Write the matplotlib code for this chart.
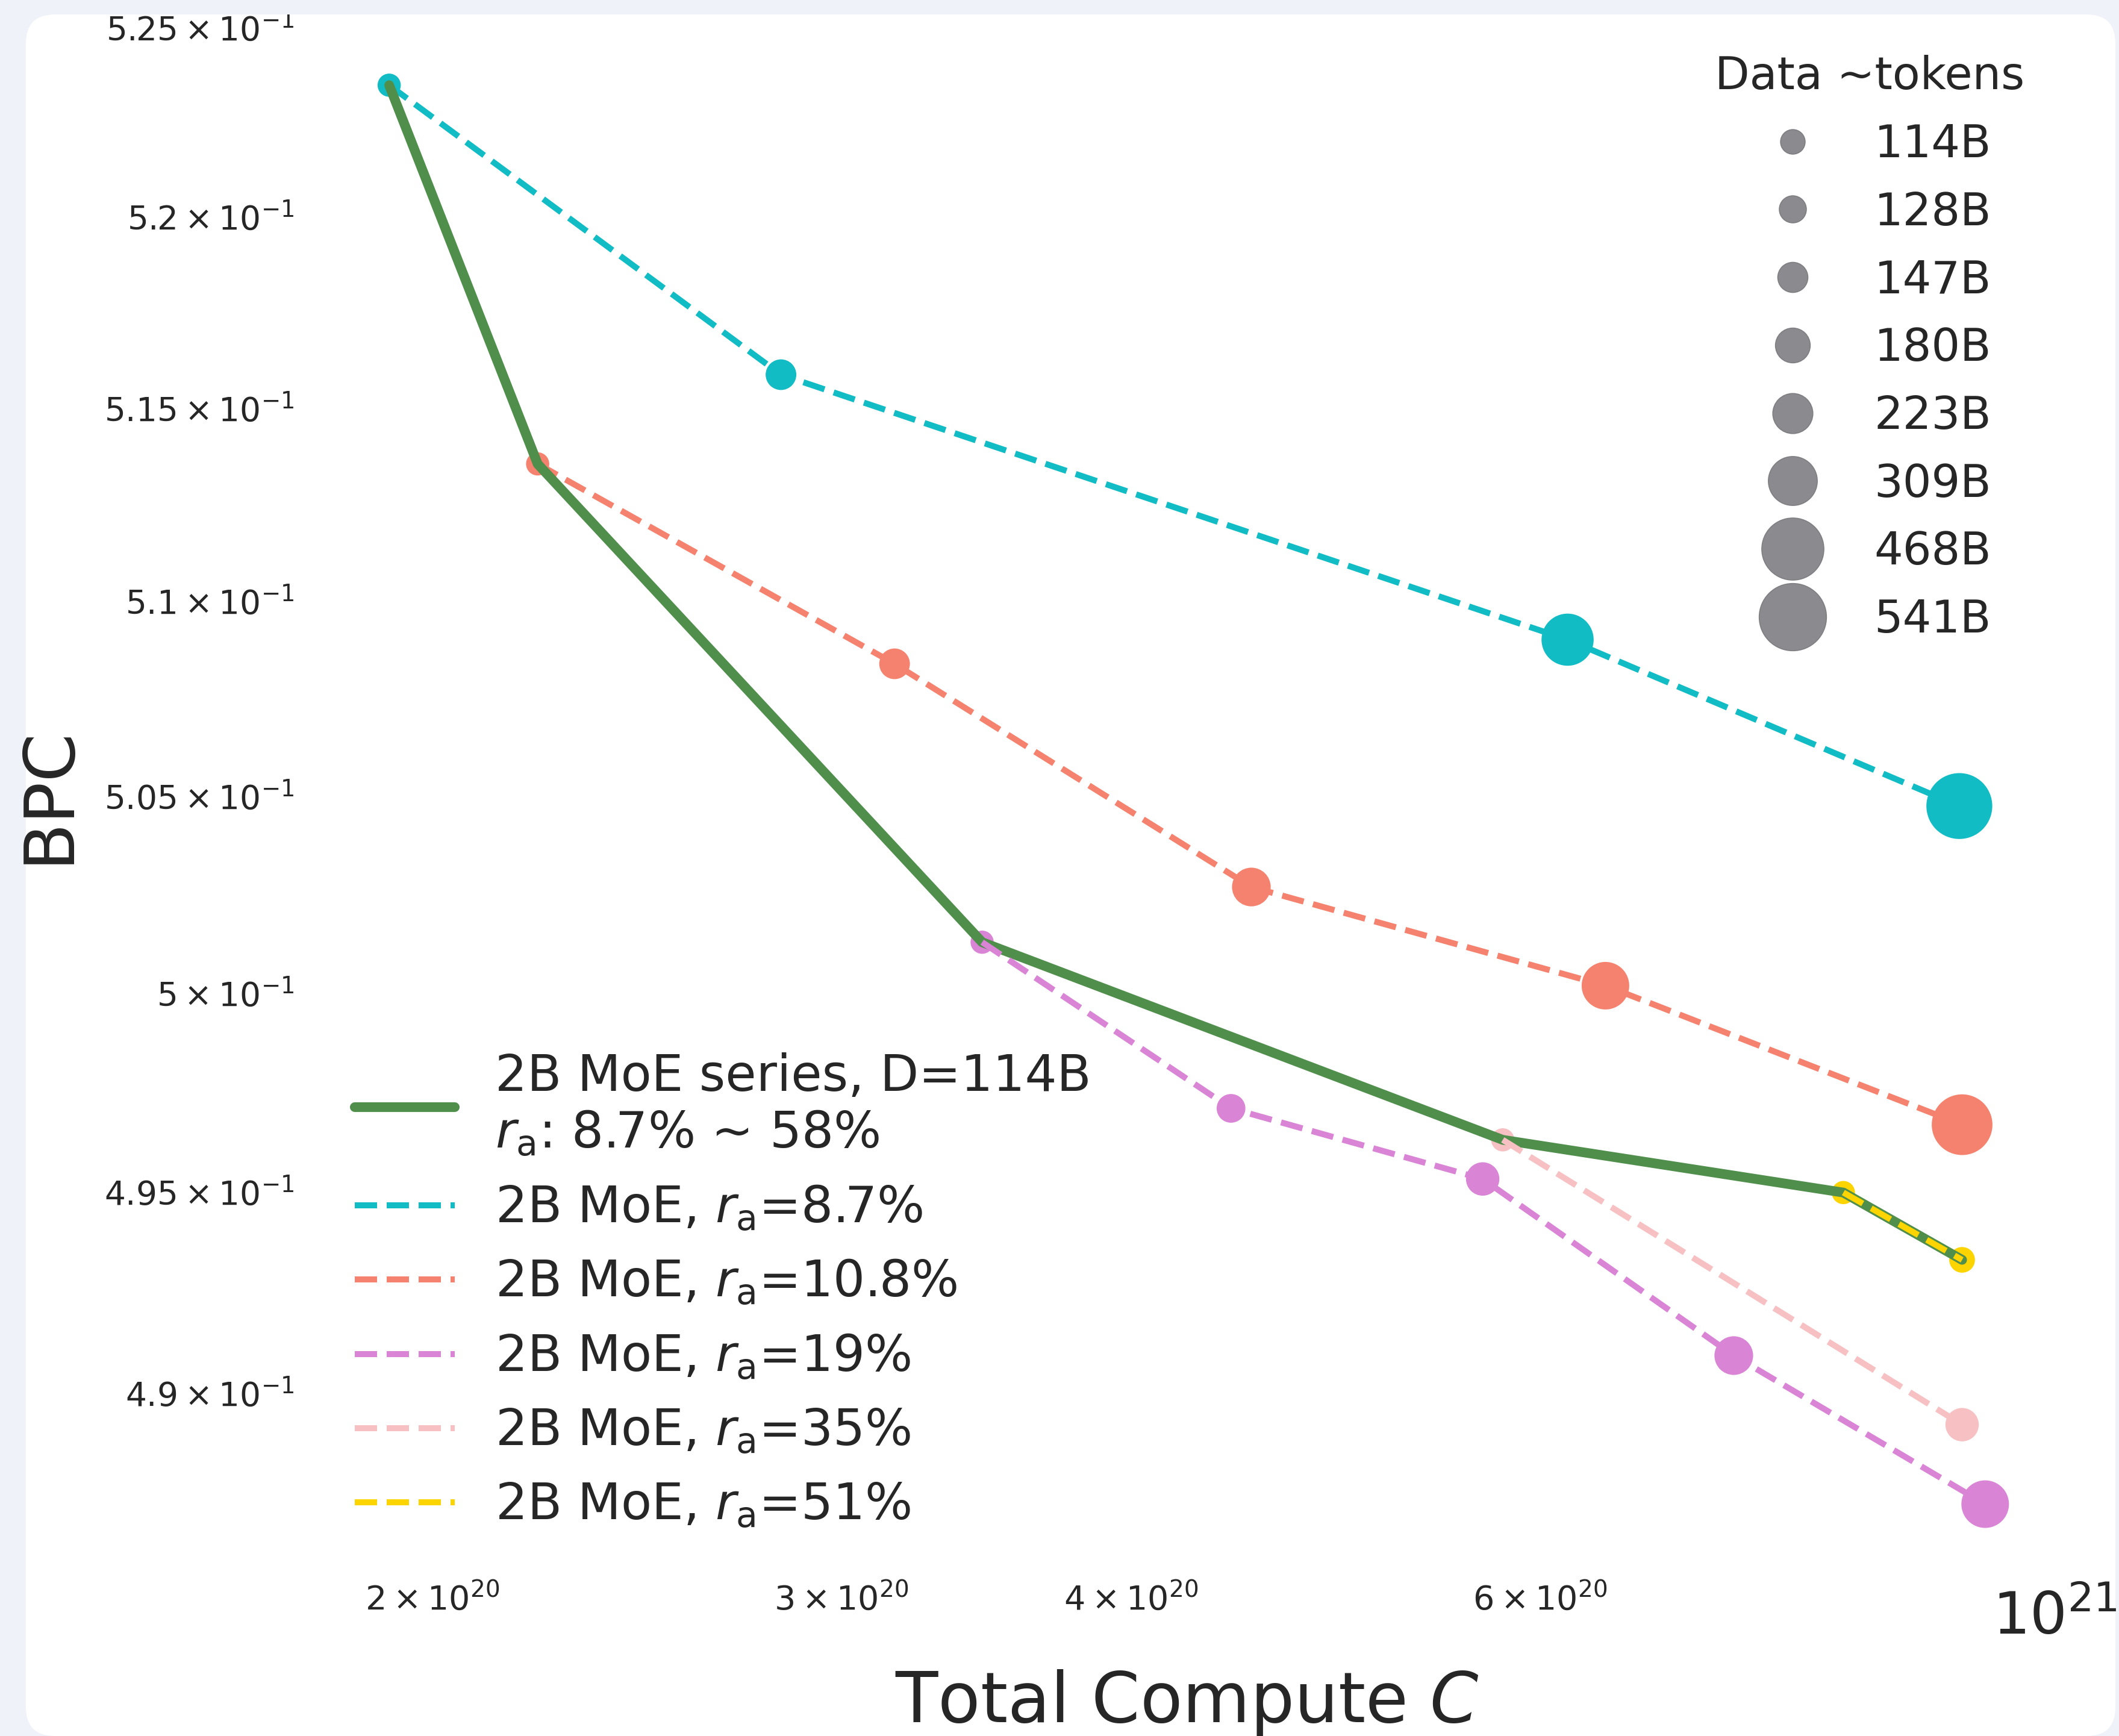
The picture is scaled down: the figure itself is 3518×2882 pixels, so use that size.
import numpy as np
import matplotlib.pyplot as plt
from matplotlib.lines import Line2D
from matplotlib.patches import FancyBboxPatch, Rectangle
from matplotlib.ticker import FixedLocator, FixedFormatter, NullLocator

# ---- data ----
compute_87 = [1.916e20, 2.826e20, 6.166e20, 9.094e20]
bpc_87 = [0.52346, 0.51586, 0.50900, 0.50474]
tokens_87 = [114, 160, 360, 541]

compute_108 = [2.220e20, 3.163e20, 4.506e20, 6.402e20, 9.119e20]
bpc_108 = [0.51354, 0.50838, 0.50268, 0.50018, 0.49668]
tokens_108 = [114, 160, 223, 309, 468]

compute_19 = [3.450e20, 4.416e20, 5.668e20, 7.271e20, 9.330e20]
bpc_19 = [0.50128, 0.49709, 0.49532, 0.49092, 0.48725]
tokens_19 = [114, 147, 180, 223, 309]

compute_35 = [5.782e20, 9.119e20]
bpc_35 = [0.49630, 0.48921]
tokens_35 = [114, 180]

compute_51 = [8.106e20, 9.119e20]
bpc_51 = [0.49498, 0.49330]
tokens_51 = [114, 128]

# 2B MoE series at D=114B (r_a from 8.7% to 58%)
compute_series = [1.916e20, 2.220e20, 3.450e20, 5.782e20, 8.106e20, 9.119e20]
bpc_series = [0.52346, 0.51354, 0.50128, 0.49630, 0.49498, 0.49330]

legend_tokens = [114, 128, 147, 180, 223, 309, 468, 541]

yticks = [0.49, 0.495, 0.50, 0.505, 0.51, 0.515, 0.52, 0.525]
ytick_labels = ['4.9', '4.95', '5', '5.05', '5.1', '5.15', '5.2', '5.25']
xticks_minor = [2e20, 3e20, 4e20, 6e20]
xtick_minor_labels = ['2', '3', '4', '6']
xticks_major = [1e21]

series = [
    (compute_87, bpc_87, tokens_87, '#12bcc4', r'2B MoE, $r_{\mathrm{a}}$=8.7%', 2.5),
    (compute_108, bpc_108, tokens_108, '#f5826e', r'2B MoE, $r_{\mathrm{a}}$=10.8%', 2.5),
    (compute_19, bpc_19, tokens_19, '#d984d5', r'2B MoE, $r_{\mathrm{a}}$=19%', 3.5),
    (compute_35, bpc_35, tokens_35, '#f7c1c3', r'2B MoE, $r_{\mathrm{a}}$=35%', 3.5),
    (compute_51, bpc_51, tokens_51, '#fcd400', r'2B MoE, $r_{\mathrm{a}}$=51%', 3.5),
]

txt = '#262626'
bg = '#eff2f9'


def marker_area(d):
    # marker area grows linearly with data tokens (like seaborn sizes=)
    return np.interp(d, [114, 541], [215, 1614])


fig = plt.figure(figsize=(17.59, 14.41), dpi=200)
fig.patch.set_facecolor(bg)
card = FancyBboxPatch((43, 0), 3512 - 43, 2858, boxstyle='round,pad=0,rounding_size=48',
                      transform=None, facecolor='white', edgecolor='none', zorder=-1)
fig.patches.append(card)

ax = fig.add_axes([0.146, 0.0927, 0.8285, 0.8991])
ax.set_facecolor('none')
ax.set_xscale('log')
ax.set_yscale('log')

handles = []
g, = ax.plot(compute_series, bpc_series, color='#508e4c', lw=5.8, zorder=3,
             solid_capstyle='round', solid_joinstyle='round',
             label='2B MoE series, D=114B\n' + r'$r_{\mathrm{a}}$: 8.7% ~ 58%')
handles.append(g)

for cx, by, tk, col, lab, z in series:
    ax.scatter(cx, by, s=marker_area(np.array(tk)), color=col, edgecolor='white',
               linewidth=0.8, zorder=2)
    ln, = ax.plot(cx, by, color=col, lw=3.6, ls='--', zorder=z, label=lab)
    handles.append(ln)

for s in ax.spines.values():
    s.set_visible(False)

ax.yaxis.set_major_locator(FixedLocator(yticks))
ax.yaxis.set_major_formatter(FixedFormatter(
    [r'$\mathdefault{%s\times10^{-1}}$' % t for t in ytick_labels]))
ax.yaxis.set_minor_locator(NullLocator())
ax.xaxis.set_major_locator(FixedLocator(xticks_major))
ax.xaxis.set_major_formatter(FixedFormatter([r'$\mathdefault{10^{21}}$']))
ax.xaxis.set_minor_locator(FixedLocator(xticks_minor))
ax.xaxis.set_minor_formatter(FixedFormatter(
    [r'$\mathdefault{%s\times10^{20}}$' % t for t in xtick_minor_labels]))

ax.tick_params(axis='y', which='both', length=0, labelsize=19.8, pad=9, colors=txt)
ax.tick_params(axis='x', which='major', length=0, labelsize=35, pad=9, colors=txt)
ax.tick_params(axis='x', which='minor', length=0, labelsize=20, pad=5, colors=txt)

ax.set_xlabel('Total Compute $C$', fontsize=41.5, color=txt, labelpad=13)
ax.set_ylabel('BPC', fontsize=41.5, color=txt, labelpad=13)

leg1 = ax.legend(handles=handles, loc='lower left', fontsize=30, frameon=False,
                 labelspacing=0.5, labelcolor=txt)
ax.add_artist(leg1)

size_handles = [Line2D([], [], ls='none', marker='o', color='#8b8a8f',
                       markeredgecolor='#7f7e83', markeredgewidth=0.6,
                       markersize=np.sqrt(marker_area(t)))
                for t in legend_tokens]
leg2 = ax.legend(size_handles, ['%dB' % t for t in legend_tokens], title='Data ~tokens',
                 loc='upper right', fontsize=27, title_fontsize=27, frameon=False,
                 labelspacing=0.53, labelcolor=txt)
leg2.get_title().set_color(txt)

# screenshot edge above the card
fig.patches.append(Rectangle((0, 2858), 3518, 30, transform=None, facecolor=bg,
                             edgecolor='none', zorder=10))

fig.savefig('out.png', dpi=200, facecolor=bg)
